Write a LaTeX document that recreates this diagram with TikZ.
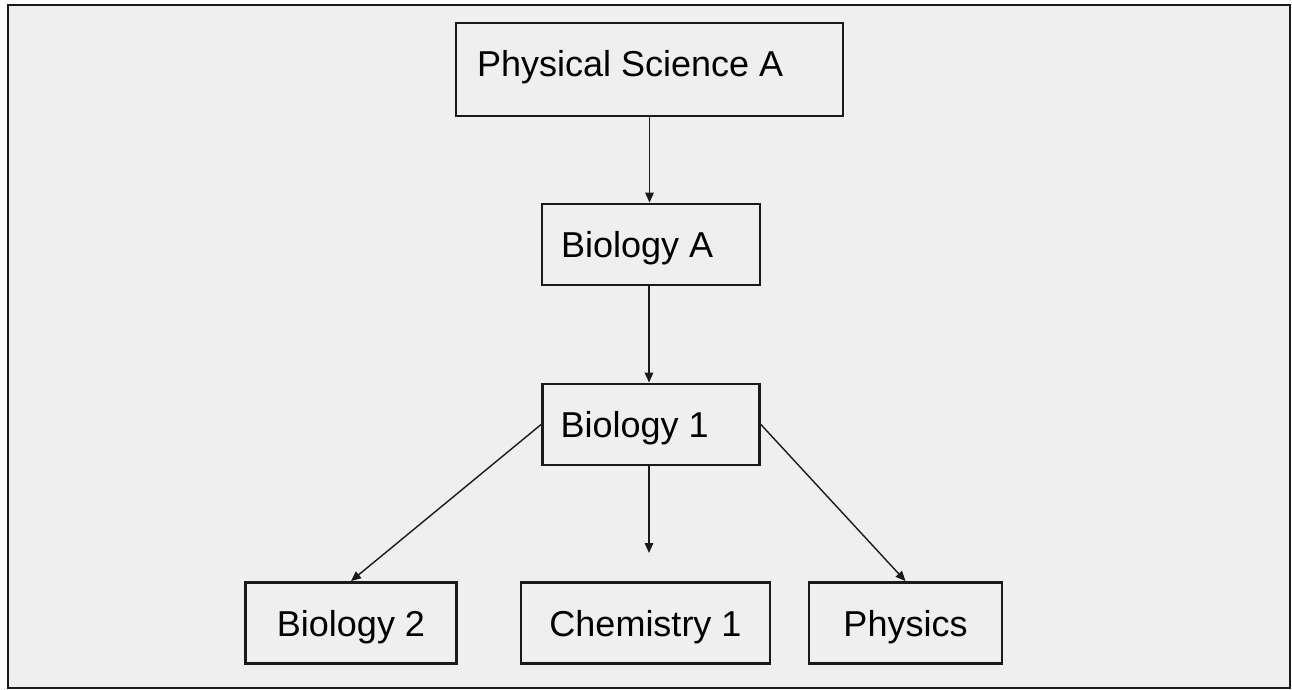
\documentclass[tikz,border=0pt]{standalone}
\usepackage{fontspec}
\setmainfont{Liberation Sans}
\usetikzlibrary{arrows.meta}
\definecolor{paper}{HTML}{EFEFEF}
\definecolor{ink}{HTML}{1A1A1A}

\begin{document}
\begin{tikzpicture}[x=1pt,y=-1pt,
  course/.style={draw=ink,line width=2.8pt,fill=paper,inner sep=0pt,
    font=\fontsize{36}{43}\selectfont,text height=26pt,text depth=0pt,
    minimum height=81pt},
  link/.style={draw=ink,line width=1.4pt,-{Triangle[length=10pt,width=8.5pt]}}]
\useasboundingbox (0,0) rectangle (1292,690);
\draw[draw=ink,line width=2pt,fill=paper] (8,5) rectangle (1290,688);
\node[course,minimum width=387pt,minimum height=93pt,text depth=11pt] (c1) at (649.5,69.5) {\makebox[345pt][l]{Physical Science A}};
\node[course,minimum width=218pt] (c2) at (651,244.5) {\makebox[180pt][l]{Biology A}};
\node[course,minimum width=217pt] (c3) at (651,424.5) {\makebox[181pt][l]{Biology 1}};
\node[course,minimum width=211pt] (c4) at (351,623) {Biology 2};
\node[course,minimum width=249pt] (c5) at (645.5,623) {Chemistry 1};
\node[course,minimum width=193pt] (c6) at (905.5,623) {Physics};
\coordinate (e5) at (649,553);
\draw[link] (c1.south) -- (c1.south |- c2.north);
\draw[link] (649,0 |- c2.south) -- (649,0 |- c3.north);
\draw[link] (649,0 |- c3.south) -- (e5);
\draw[link] (c3.west) -- (c4.north);
\draw[link] (c3.east) -- (c6.north);
\end{tikzpicture}
\end{document}
